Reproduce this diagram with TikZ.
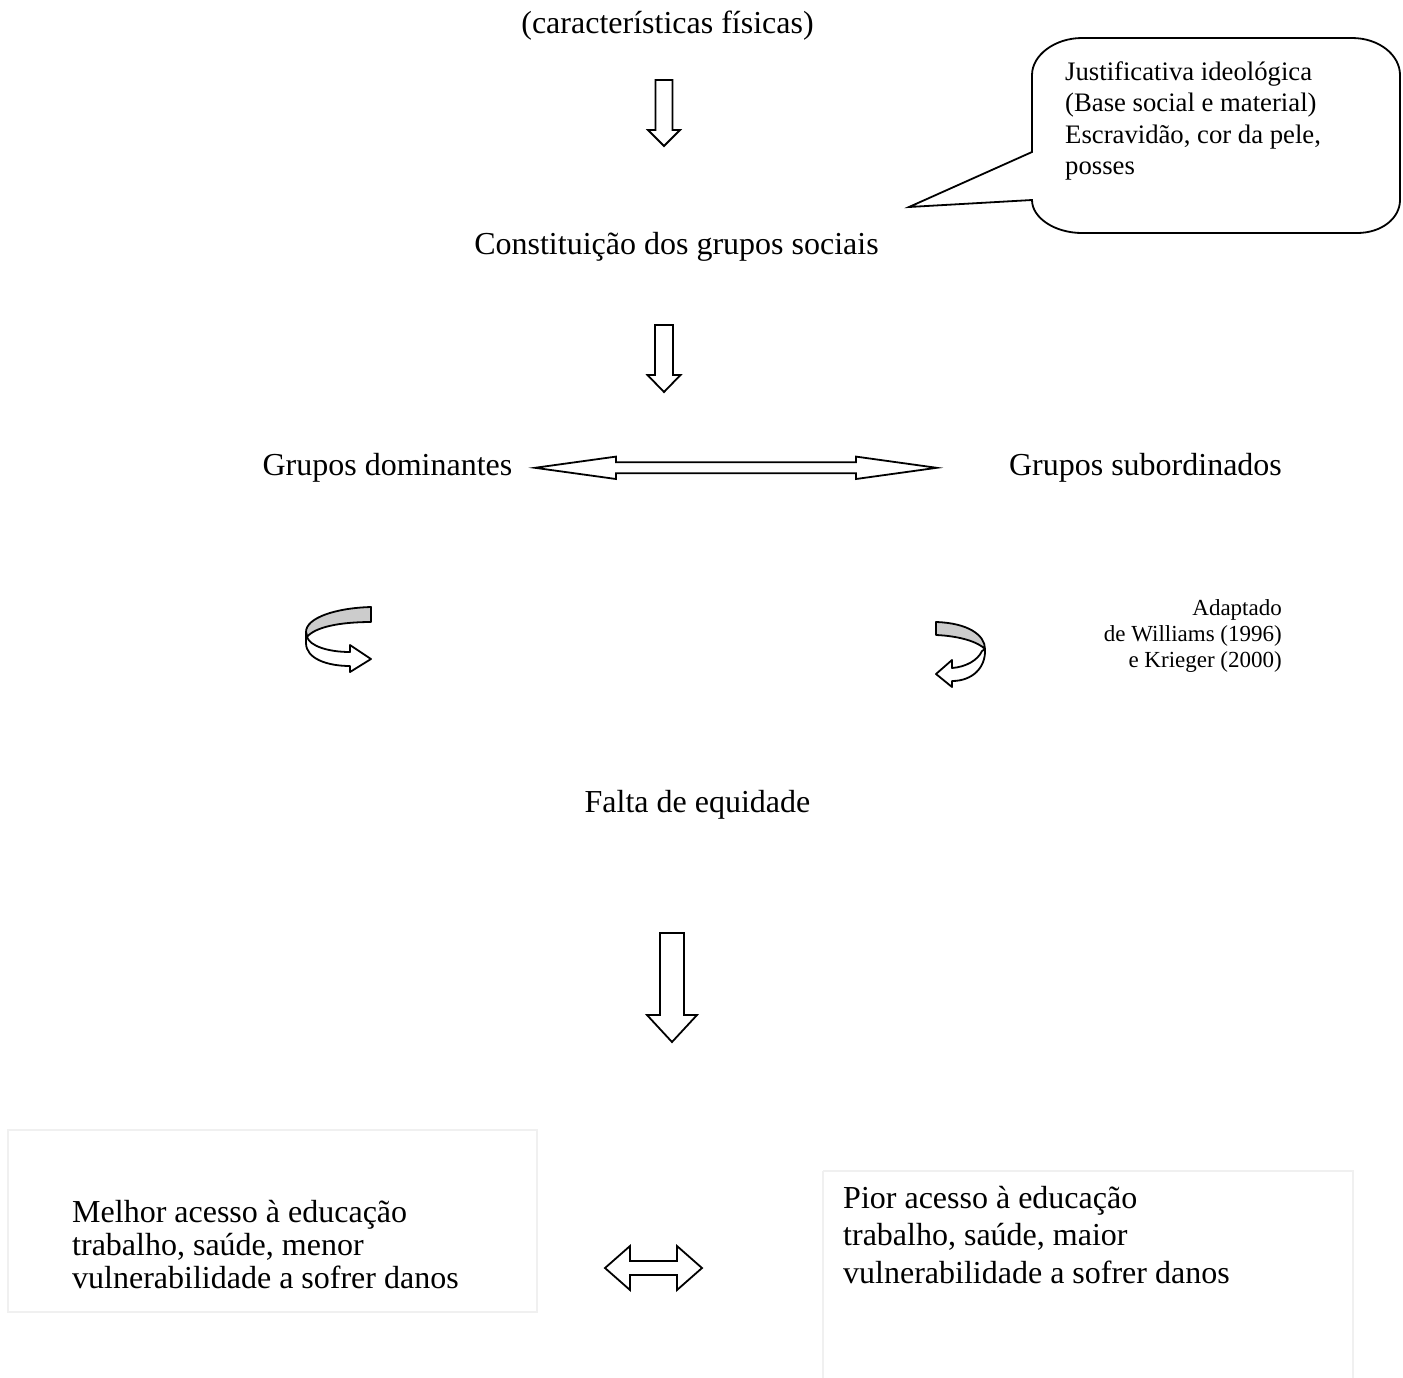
\documentclass[tikz,border=0pt]{standalone}
\usepackage{fontspec}
\setmainfont{Liberation Serif}
\definecolor{boxline}{HTML}{F0F0F0}
\definecolor{ribbon}{HTML}{CCCCCC}
\tikzset{
  lbl/.style={font=\fontsize{32}{37}\selectfont, inner sep=0pt, anchor=base},
  hollow/.style={draw=black, fill=white, line width=1.8pt, line join=miter},
  ribbonback/.style={draw=black, fill=ribbon, line width=1.8pt, line join=round},
  faintbox/.style={draw=boxline, line width=1.5pt},
  callout/.style={draw=black, line width=1.8pt, line join=miter},
}
% hollow down arrow: x, ytop, shaft half width, head half width, head base y, tip y
\newcommand\hollowdown[6]{%
  \draw[hollow] (#1-#3,#2) -- (#1+#3,#2) -- (#1+#3,#5) -- (#1+#4,#5) -- (#1,#6)
    -- (#1-#4,#5) -- (#1-#3,#5) -- cycle;}
% hollow double arrow: y, left tip, left base, right base, right tip, shaft half, head half
\newcommand\hollowboth[7]{%
  \draw[hollow] (#2,#1) -- (#3,#1-#7) -- (#3,#1-#6) -- (#4,#1-#6) -- (#4,#1-#7)
    -- (#5,#1) -- (#4,#1+#7) -- (#4,#1+#6) -- (#3,#1+#6) -- (#3,#1+#7) -- cycle;}
\begin{document}
\begin{tikzpicture}[x=1pt,y=-1pt]
\useasboundingbox (0,0) rectangle (1403,1377);
\fill[white] (0,0) rectangle (1403,1377);

% texts
\node[lbl] (top) at (667.5,33) {(características físicas)};
\node[lbl] (cgs) at (676.5,254) {Constituição dos grupos sociais};
\node[lbl] (gdom) at (387.5,475) {Grupos dominantes};
\node[lbl] (gsub) at (1145.5,475) {Grupos subordinados};
\node[lbl] (falta) at (697.5,812) {Falta de equidade};
\node[inner sep=0pt, anchor=north east, align=right,
      font=\fontsize{23}{26}\selectfont] (src) at (1282,599)
  {Adaptado\\de Williams (1996)\\e Krieger (2000)};

% callout
\draw[callout] (1032,152) -- (1032,75) .. controls (1032,55) and (1055,38) .. (1082,38)
  -- (1352,38) .. controls (1379,38) and (1400,55) .. (1400,75)
  -- (1400,200) .. controls (1400,218) and (1382,233) .. (1357,233)
  -- (1082,233) .. controls (1055,233) and (1032,218) .. (1032,200)
  -- (909,207) -- cycle;
\node[inner sep=0pt, anchor=north west, align=left,
      font=\fontsize{26.7}{31.5}\selectfont] (note) at (1065,61)
  {Justificativa ideológica\\(Base social e material)\\Escravidão, cor da pele,\\posses};

% vertical block arrows
\hollowdown{664}{80}{8.5}{16}{130}{146}
\hollowdown{664}{325}{9}{16.5}{375}{392}
\hollowdown{672}{933}{12}{25}{1015}{1042}

% horizontal double arrow
\hollowboth{467.8}{535}{616}{856}{936.7}{5.5}{11.2}

% left curved arrow
\draw[ribbonback] (371,607) .. controls (335,608) and (306,618) .. (306,632)
  -- (307,637) .. controls (315,627) and (340,622) .. (371,622) -- cycle;
\draw[hollow, line join=round] (306,632) -- (306,643) .. controls (306,659) and (328,666) .. (350,666)
  -- (350,672) -- (371,659) -- (350,645) -- (350,652)
  .. controls (328,652) and (310,646) .. (307,637) -- cycle;

% right curved arrow
\draw[ribbonback] (936,622) .. controls (968,623) and (985,635) .. (985,649)
  .. controls (978,642) and (960,636) .. (936,635) -- cycle;
\draw[hollow, line join=round] (985,649) .. controls (986,668) and (972,681) .. (952,681)
  -- (952,687) -- (936,674) -- (952,660) -- (952,668)
  .. controls (966,667) and (978,660) .. (982,651) -- cycle;

% bottom boxes
\draw[faintbox] (8,1130) rectangle (537,1312);
\node[inner sep=0pt, anchor=north west, align=left,
      font=\fontsize{32}{33}\selectfont] (txtL) at (72,1200)
  {Melhor acesso à educação\\trabalho, saúde, menor\\vulnerabilidade a sofrer danos};
\draw[faintbox] (823,1171) -- (1353,1171) -- (1353,1380) (823,1171) -- (823,1380);
\node[inner sep=0pt, anchor=north west, align=left,
      font=\fontsize{32}{37.5}\selectfont] (txtR) at (843,1186)
  {Pior acesso à educação\\trabalho, saúde, maior\\vulnerabilidade a sofrer danos};

% small double arrow
\hollowboth{1268}{605}{630}{677}{702}{7}{22}
\end{tikzpicture}
\end{document}
